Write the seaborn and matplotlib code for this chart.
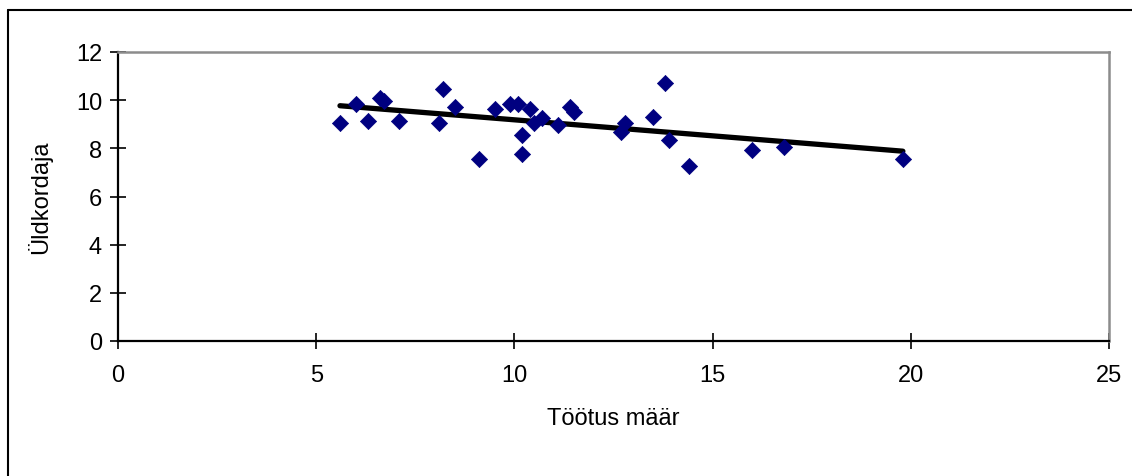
import matplotlib
matplotlib.use("Agg")
import matplotlib.pyplot as plt
import seaborn as sns
import pandas as pd
from matplotlib.lines import Line2D

toodus_maar = [5.6, 6.0, 6.3, 6.6, 6.7, 7.1, 8.1, 8.2, 8.5, 9.1,
               9.5, 9.9, 10.1, 10.2, 10.2, 10.4, 10.5, 10.7, 11.1, 11.4,
               11.5, 12.7, 12.8, 13.5, 13.8, 13.9, 14.4, 16.0, 16.8, 19.8]
uldkordaja = [9.05, 9.83, 9.14, 10.11, 9.95, 9.14, 9.05, 10.46, 9.73, 7.55,
              9.65, 9.83, 9.85, 8.55, 7.75, 9.65, 9.05, 9.24, 8.96, 9.73,
              9.51, 8.66, 9.07, 9.32, 10.73, 8.34, 7.25, 7.94, 8.04, 7.55]
x_ticks = [0, 5, 10, 15, 20, 25]
y_ticks = [0, 2, 4, 6, 8, 10, 12]

df = pd.DataFrame({"Töötus määr": toodus_maar, "Üldkordaja": uldkordaja})

sns.set_theme(style="white")
plt.rcParams['font.family'] = ['Liberation Sans', 'DejaVu Sans']

fig = plt.figure(figsize=(11.32, 4.77), dpi=100)
ax = fig.add_axes([118/1132, 1-342/477, (1109-118)/1132, (342-53)/477])

sns.regplot(data=df, x="Töötus määr", y="Üldkordaja", scatter=False, ci=None,
            ax=ax, color="black", line_kws={"linewidth": 3.8, "solid_capstyle": "round"})
sns.scatterplot(data=df, x="Töötus määr", y="Üldkordaja", ax=ax, marker="D",
                s=68, color="#000080", edgecolor="#000080", linewidth=0.5, zorder=3)

ax.set_xlim(0, 25)
ax.set_ylim(0, 12)
ax.set_xticks(x_ticks)
ax.set_yticks(y_ticks)
ax.tick_params(axis="both", direction="inout", length=11, width=1.2, color="black",
               labelsize=17, labelcolor="black", bottom=True, left=True)
ax.tick_params(axis="x", pad=11)
ax.tick_params(axis="y", pad=6)
ax.set_xlabel("Töötus määr", fontsize=17, color="black", labelpad=15)
ax.set_ylabel("Üldkordaja", fontsize=17, color="black", labelpad=17)

for side in ["left", "bottom"]:
    ax.spines[side].set_color("black")
    ax.spines[side].set_linewidth(1.6)
for side in ["top", "right"]:
    ax.spines[side].set_color("#8c8c8c")
    ax.spines[side].set_linewidth(1.8)
    ax.spines[side].set_visible(True)

# outer chart border (cropped at right and bottom)
fig.add_artist(Line2D([7.5/1132, 7.5/1132], [0, 1-11/477], transform=fig.transFigure,
                      color="black", linewidth=1.5))
fig.add_artist(Line2D([7.5/1132, 1.0], [1-11/477, 1-11/477], transform=fig.transFigure,
                      color="black", linewidth=1.5))

fig.savefig("out.png", dpi=100)
